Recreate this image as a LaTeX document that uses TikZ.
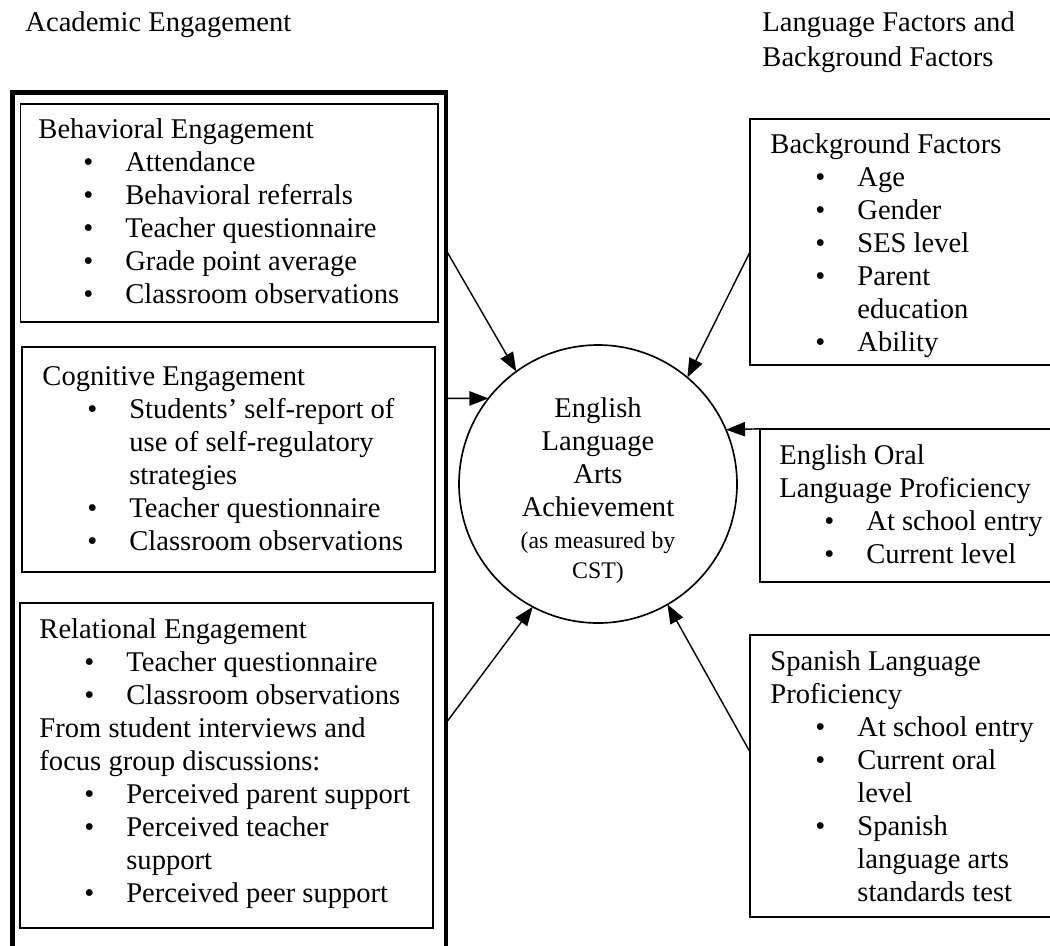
\documentclass[tikz,border=0pt]{standalone}
\usepackage{fontspec}
\setmainfont{Liberation Serif}
\usetikzlibrary{arrows.meta,fit}

\newlength\pxu
\setlength\pxu{0.42pt}
\newcommand{\bul}[1]{\hspace*{18.9pt}\makebox[17.6pt][l]{\textbullet}#1}
\newcommand{\cont}[1]{\hspace*{36.5pt}#1}

\tikzset{
  box/.style={draw,line width=0.8pt,inner sep=0pt,outer sep=0pt},
  txt/.style={anchor=base west,inner sep=0pt,align=left,font=\fontsize{12}{13.86}\selectfont},
  arr/.style={line width=0.6pt,-{Triangle[length=8pt,width=6pt]}}
}

\begin{document}
\begin{tikzpicture}[x=0.42pt,y=-0.42pt]
  \useasboundingbox (0,0) rectangle (1050,945);
  \clip (0,0) rectangle (1050,945);
  \fill[white] (0,0) rectangle (1050,945);

  %% ---- Left column: academic engagement ----
  % (text nodes are placed at the baseline of their last line)
  \node[txt] (acadhead) at (25,31) {Academic Engagement};
  \node[box,line width=2pt,fit={(12.5,92.5) (446,975)}] (acad) {};

  % Behavioral
  \node[box,fit={(20.5,104) (438,322)}] (behav) {};
  \node[txt] (behavtxt) at (38,303) {Behavioral Engagement\\
    \bul{Attendance}\\
    \bul{Behavioral referrals}\\
    \bul{Teacher questionnaire}\\
    \bul{Grade point average}\\
    \bul{Classroom observations}};

  % Cognitive
  \node[box,fit={(22,347) (435,572)}] (cog) {};
  \node[txt] (cogtxt) at (42,550) {Cognitive Engagement\\
    \bul{Students’ self-report of}\\
    \cont{use of self-regulatory}\\
    \cont{strategies}\\
    \bul{Teacher questionnaire}\\
    \bul{Classroom observations}};

  % Relational
  \node[box,fit={(20,603) (433,928)}] (rel) {};
  \node[txt] (reltxt) at (39,902) {Relational Engagement\\
    \bul{Teacher questionnaire}\\
    \bul{Classroom observations}\\
    From student interviews and\\
    focus group discussions:\\
    \bul{Perceived parent support}\\
    \bul{Perceived teacher}\\
    \cont{support}\\
    \bul{Perceived peer support}};

  %% ---- Centre: outcome ----
  \node[draw,circle,line width=0.7pt,inner sep=0pt,outer sep=0pt,minimum size=278\pxu] (ela) at (598,484) {};
  \node[txt,anchor=base,align=center] (elatxt) at (598,516) {English\\Language\\Arts\\Achievement};
  \node[txt,anchor=base,align=center,font=\fontsize{10}{12.6}\selectfont] (elanote) at (598,578) {(as measured by\\CST)};

  %% ---- Right column: language and background factors ----
  \node[txt,font=\fontsize{12}{14.7}\selectfont] (langhead) at (762,66) {Language Factors and\\Background Factors};

  % Background
  \node[box,fit={(750,119) (1060,365)}] (bg) {};
  \node[txt] (bgtxt) at (770,351) {Background Factors\\
    \bul{Age}\\
    \bul{Gender}\\
    \bul{SES level}\\
    \bul{Parent}\\
    \cont{education}\\
    \bul{Ability}};

  % English oral
  \node[box,fit={(760,428.8) (1060,582)}] (eng) {};
  \node[txt] (engtxt) at (779,563) {English Oral\\
    Language Proficiency\\
    \bul{At school entry}\\
    \bul{Current level}};

  % Spanish
  \node[box,fit={(750,635) (1060,917)}] (spa) {};
  \node[txt] (spatxt) at (770,901) {Spanish Language\\
    Proficiency\\
    \bul{At school entry}\\
    \bul{Current oral}\\
    \cont{level}\\
    \bul{Spanish}\\
    \cont{language arts}\\
    \cont{standards test}};

  %% ---- Arrows into the outcome ----
  \coordinate (behavout) at (446,250);
  \coordinate (cogout) at (446,398.4);
  \coordinate (relout) at (446,723);
  \coordinate (bgout) at (750,252);
  \coordinate (spaout) at (750,752);

  \draw[arr] (behavout) -- (ela.126);
  \draw[arr] (cogout) -- (ela.142);
  \draw[arr] (relout) -- (ela.242);
  \draw[arr] (bgout) -- (ela.50);
  \draw[arr] (eng.north west) -- (ela.23.4);
  \draw[arr] (spaout) -- (ela.300);

\end{tikzpicture}
\end{document}
